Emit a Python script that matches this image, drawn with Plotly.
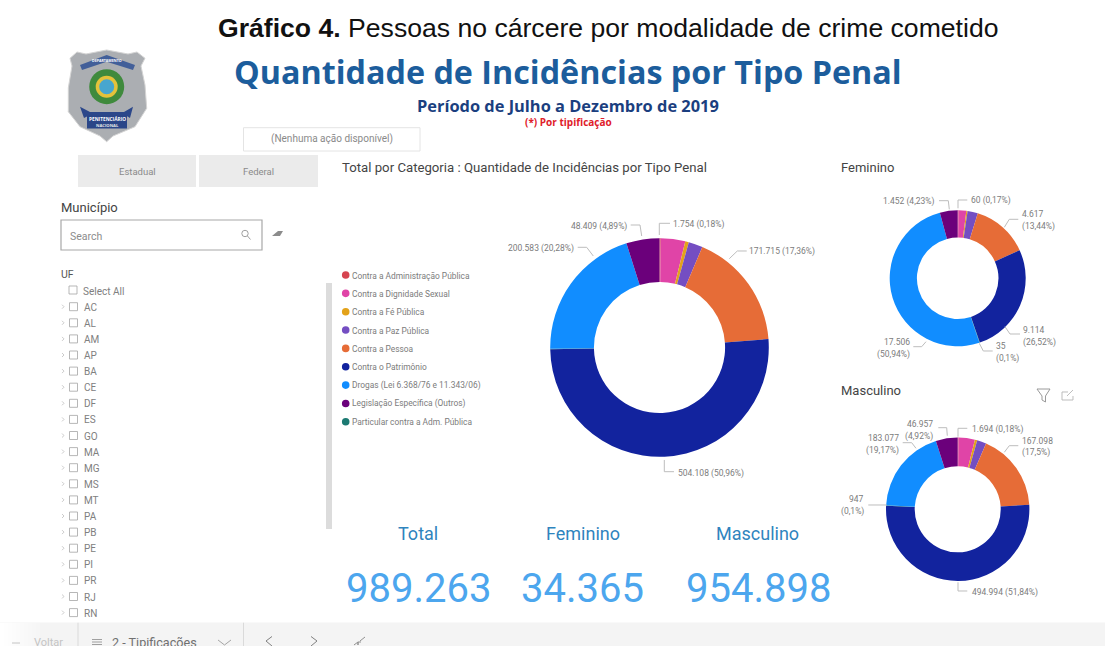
import plotly.graph_objects as go

W, H = 1105, 646

categories = ["Contra a Administração Pública", "Contra a Dignidade Sexual", "Contra a Fé Pública",
              "Contra a Paz Pública", "Contra a Pessoa", "Contra o Patrimônio",
              "Particular contra a Adm. Pública", "Drogas (Lei 6.368/76 e 11.343/06)",
              "Legislação Específica (Outros)"]
legend_order = ["Contra a Administração Pública", "Contra a Dignidade Sexual", "Contra a Fé Pública",
                "Contra a Paz Pública", "Contra a Pessoa", "Contra o Patrimônio",
                "Drogas (Lei 6.368/76 e 11.343/06)", "Legislação Específica (Outros)",
                "Particular contra a Adm. Pública"]
colors = {"Contra a Administração Pública": "#D64550", "Contra a Dignidade Sexual": "#E044A7",
          "Contra a Fé Pública": "#E3A21A", "Contra a Paz Pública": "#744EC2",
          "Contra a Pessoa": "#E66C37", "Contra o Patrimônio": "#12239E",
          "Particular contra a Adm. Pública": "#1C7A72",
          "Drogas (Lei 6.368/76 e 11.343/06)": "#118DFF", "Legislação Específica (Outros)": "#6B007B"}

total_values = [1754, 35800, 5200, 20712, 171715, 504108, 982, 200583, 48409]
feminino_values = [60, 640, 100, 841, 4617, 9114, 35, 17506, 1452]
masculino_values = [1694, 35160, 5100, 19871, 167098, 494994, 947, 183077, 46957]

uf_list = ["AC", "AL", "AM", "AP", "BA", "CE", "DF", "ES", "GO", "MA", "MG", "MS", "MT",
           "PA", "PB", "PE", "PI", "PR", "RJ", "RN"]

total_labels = [("1.754 (0,18%)", 673, 224.7, "left"), ("48.409 (4,89%)", 627, 226, "right"),
                ("200.583 (20,28%)", 574, 248.3, "right"), ("171.715 (17,36%)", 749.3, 251.7, "left"),
                ("504.108 (50,96%)", 678.3, 473.3, "left")]
feminino_labels = [("60 (0,17%)", 970.7, 200.7, "left"), ("1.452 (4,23%)", 935, 201.7, "right"),
                   ("4.617", 1021.7, 214.3, "left"), ("(13,44%)", 1021.7, 226.7, "left"),
                   ("9.114", 1023.3, 330, "left"), ("(26,52%)", 1023.3, 342, "left"),
                   ("35", 995.7, 346, "left"), ("(0,1%)", 995.7, 358.3, "left"),
                   ("17.506", 910, 341.7, "right"), ("(50,94%)", 910, 354, "right")]
masculino_labels = [("1.694 (0,18%)", 971.7, 429.3, "left"), ("46.957", 932.7, 424, "right"),
                    ("(4,92%)", 932.7, 436, "right"), ("183.077", 899, 437.7, "right"),
                    ("(19,17%)", 899, 450, "right"), ("167.098", 1021.7, 441, "left"),
                    ("(17,5%)", 1021.7, 452.7, "left"), ("947", 864.3, 499.3, "right"),
                    ("(0,1%)", 864.3, 511.7, "right"), ("494.994 (51,84%)", 971.7, 592.3, "left")]
leaders = [
    [(659.3, 235), (659.3, 223.3), (670, 223.3)], [(630.7, 225), (640, 225), (641.7, 236)],
    [(577.7, 247.3), (586.7, 247.3), (593.3, 256)], [(729.3, 258.7), (737.3, 251), (746.7, 251)],
    [(664.3, 460), (664.3, 471.7), (674, 471.7)],
    [(958, 208.3), (958, 200), (967.3, 200)], [(939, 200.7), (948.3, 200.7), (949.3, 209.3)],
    [(1004.3, 227.3), (1009.3, 219.3), (1018.3, 219.3)], [(1005, 326.7), (1010, 334), (1020, 334)],
    [(979.3, 343.3), (983.3, 351), (992.7, 351)], [(926, 341.7), (921.7, 346.7), (913.3, 346.7)],
    [(958, 436.7), (958, 428.3), (967.3, 428.3)], [(938.3, 427.7), (946.7, 427.7), (947.3, 435.7)],
    [(902.7, 442.7), (911.7, 442.7), (916, 448.3)], [(1004.3, 452.3), (1009.3, 445.7), (1018.3, 445.7)],
    [(868.3, 505), (886.7, 505)], [(958, 582.3), (958, 591), (967.3, 591)],
]

DIN = "Roboto, 'Noto Sans', sans-serif"
OPEN = "'Open Sans', 'Noto Sans', sans-serif"

fig = go.Figure()


def donut(values, cx, cy, r, hole):
    fig.add_trace(go.Pie(
        labels=categories, values=values, hole=hole, sort=False, direction="clockwise", rotation=0,
        marker=dict(colors=[colors[c] for c in categories], line=dict(width=0)),
        textinfo="none", showlegend=False,
        domain=dict(x=[(cx - r) / W, (cx + r) / W], y=[1 - (cy + r) / H, 1 - (cy - r) / H]),
    ))


donut(total_values, 659.5, 347.5, 109.3, 0.6)
donut(feminino_values, 957.7, 278.3, 68, 0.6)
donut(masculino_values, 957.7, 509.3, 71.7, 0.6)

ann = []
shapes = []


def T(x, y, text, size, color, anchor="left", font=DIN, bold=False):
    if bold:
        text = f"<b>{text}</b>"
    ann.append(dict(x=x / W, y=1 - y / H, xref="paper", yref="paper", text=text, showarrow=False,
                    xanchor=anchor, yanchor="middle", borderpad=0, borderwidth=0,
                    font=dict(size=size, color=color, family=font)))


def R(x0, y0, x1, y1, fill=None, line=None, lw=1):
    shapes.append(dict(type="rect", xref="paper", yref="paper", x0=x0 / W, x1=x1 / W,
                       y0=1 - y0 / H, y1=1 - y1 / H, fillcolor=fill or "rgba(0,0,0,0)",
                       line=dict(color=line or "rgba(0,0,0,0)", width=lw if line else 0)))


def C(cx, cy, r, fill, line=None, lw=1):
    shapes.append(dict(type="circle", xref="paper", yref="paper", x0=(cx - r) / W, x1=(cx + r) / W,
                       y0=1 - (cy - r) / H, y1=1 - (cy + r) / H, fillcolor=fill or "rgba(0,0,0,0)",
                       line=dict(color=line or "rgba(0,0,0,0)", width=lw if line else 0)))


def P(pts, color="#B5B5B5", lw=1, fill=None, close=False):
    d = "M " + " L ".join(f"{x / W:.5f},{1 - y / H:.5f}" for x, y in pts) + (" Z" if close else "")
    shapes.append(dict(type="path", xref="paper", yref="paper", path=d,
                       fillcolor=fill or "rgba(0,0,0,0)",
                       line=dict(color=color if lw else "rgba(0,0,0,0)", width=lw)))


# Headings
T(607.5, 28, "<b>Gráfico 4.</b> Pessoas no cárcere por modalidade de crime cometido", 26.6, "#111111",
  "center", "'Liberation Sans', Arial, sans-serif")
T(567.5, 71, "Quantidade de Incidências por Tipo Penal", 32.3, "#1C5D9C", "center", OPEN, True)
T(567.5, 105, "Período de Julho a Dezembro de 2019", 16.4, "#1B3F7F", "center", OPEN, True)
T(568, 122, "(*) Por tipificação", 10, "#E0202A", "center", OPEN, True)

# Logo
P([(106.7, 50), (128, 54), (137, 52), (145, 58.3), (141, 66), (145, 85), (146.7, 108.3), (135, 126.7),
   (113, 136), (106.7, 141.7), (100, 136), (80, 126.7), (68.3, 111.7), (68.3, 88), (72, 66), (70, 58.3),
   (77, 52), (86, 54)], color="#D4D4D4", lw=1, fill="#ABAEB2", close=True)
P([(80, 65), (106.7, 55), (135, 65), (133, 70), (106.7, 61.7), (82, 70)], lw=0, fill="#425F99", close=True)
C(106.7, 86.7, 17.5, "#3F8A3D")
C(106.7, 86.7, 11, "#E4C23B")
C(106.7, 86.7, 7.5, "#47A6CF")
P([(80, 106.7), (90, 112), (124, 112), (133, 106.7), (130, 118), (126.7, 116), (88, 116), (84, 118)],
  lw=0, fill="#2B478A", close=True)
R(87, 115, 127, 128.5, "#2A4688")
T(107, 118.6, "PENITENCIÁRIO", 4.8, "#FFFFFF", "center", OPEN, True)
T(107, 125, "NACIONAL", 4.2, "#E6E6E6", "center", OPEN, True)
T(107, 60.5, "DEPARTAMENTO", 3.6, "#FFFFFF", "center", OPEN, True)

# Action box and buttons
R(243.5, 127.7, 420, 151, "#FFFFFF", "#E4E4E4", 1)
T(332, 139, "(Nenhuma ação disponível)", 10, "#8A8A8A", "center")
R(78, 155, 196, 187, "#EBEBEB")
R(199, 155, 318, 187, "#EBEBEB")
T(137, 171.5, "Estadual", 9.5, "#8A8A8A", "center")
T(258, 171.5, "Federal", 9.5, "#8A8A8A", "center")

# Slicers
T(61, 208, "Município", 13, "#444444")
R(61, 220, 262, 250, "#FFFFFF", "#A8A8A8", 1.2)
T(70, 236, "Search", 10.5, "#8C8C8C")
C(245, 233.5, 3.2, None, "#A0A0A0", 1)
P([(247.5, 236), (250.5, 239.5)], "#A0A0A0", 1)
P([(272, 236), (278, 231), (283, 231), (280, 236)], lw=0, fill="#8C8C8C", close=True)
T(61, 274, "UF", 10.5, "#555555")
R(69, 286, 77, 294, "#FFFFFF", "#A5A5A5", 0.8)
T(83, 291, "Select All", 10, "#808080")
for i, uf in enumerate(uf_list):
    y = 306.7 + i * 16.1
    P([(62, y - 2), (64, y), (62, y + 2)], "#BEBEBE", 0.8)
    R(69.5, y - 4, 77.5, y + 4, "#FFFFFF", "#A5A5A5", 0.8)
    T(84, y + 0.5, uf, 10, "#808080")
R(326, 283, 332, 529, "#DCDCDC")

# Visual titles
T(342, 167, "Total por Categoria : Quantidade de Incidências por Tipo Penal", 13.2, "#444444")
T(841, 167, "Feminino", 13, "#444444")
T(841, 390, "Masculino", 13, "#444444")

# Legend
for i, name in enumerate(legend_order):
    y = 275 + i * 18.35
    C(345.7, y, 3.8, colors[name])
    T(351.5, y + 0.5, name, 8.4, "#7C7C7C")

# Data labels
for text, x, y, side in total_labels + feminino_labels + masculino_labels:
    T(x, y, text, 8.5, "#7C7C7C", side)
for pts in leaders:
    P(pts, "#BDBDBD", 1)

# KPI cards
T(418, 533, "Total", 18, "#2F84BE", "center")
T(583, 533, "Feminino", 18, "#2F84BE", "center")
T(757.5, 533, "Masculino", 18, "#2F84BE", "center")
T(418.5, 588, "989.263", 40, "#4CA6EE", "center")
T(582.5, 588, "34.365", 40, "#4CA6EE", "center")
T(758, 588, "954.898", 40, "#4CA6EE", "center")

# Visual header icons
P([(1037, 389), (1050, 389), (1045.5, 396), (1045.5, 402), (1042, 400), (1042, 396)], "#9A9A9A", 1, close=True)
P([(1068, 392), (1062, 392), (1062, 400), (1073, 400), (1073, 396)], "#B5B5B5", 0.9)
P([(1067, 396), (1073, 390)], "#B5B5B5", 0.9)

# Page navigation bar
R(0, 622.7, W, H, "#F4F4F4")
for i in range(10):
    g = 255 - i
    R(i * 4, 622.7, i * 4 + 4, H, f"rgb({g},{g},{g})")
R(0, 622, W, 622.7, "#F8F8F8")
P([(20, 643), (12, 643)], "#C4C4C4", 1)
T(34, 642, "Voltar", 11, "#C4C4C4")
for yy in (639.5, 642, 644.5):
    P([(92, yy), (102, yy)], "#8A8A8A", 0.8)
T(112, 642, "2 - Tipificações", 12.6, "#707070")
P([(78, 622.7), (78, H)], "#DADADA", 1)
P([(243.5, 622.7), (243.5, H)], "#DADADA", 1)
P([(218, 640), (224.5, 645), (231, 640)], "#A5A5A5", 1)
P([(272, 636.5), (266, 641), (272, 646)], "#808080", 1)
P([(311, 636.5), (317, 641), (311, 646)], "#808080", 1)
P([(354, 645), (358, 642), (358, 645), (358, 642), (361, 642)], "#909090", 1)
P([(360, 641), (365, 637)], "#909090", 1)

fig.update_layout(width=W, height=H, margin=dict(l=0, r=0, t=0, b=0), paper_bgcolor="#FFFFFF",
                  plot_bgcolor="#FFFFFF", showlegend=False, annotations=ann, shapes=shapes)
fig.write_html("out.html", config={"displayModeBar": False},
               post_script="document.body.style.margin='0';document.body.style.overflow='hidden';")
